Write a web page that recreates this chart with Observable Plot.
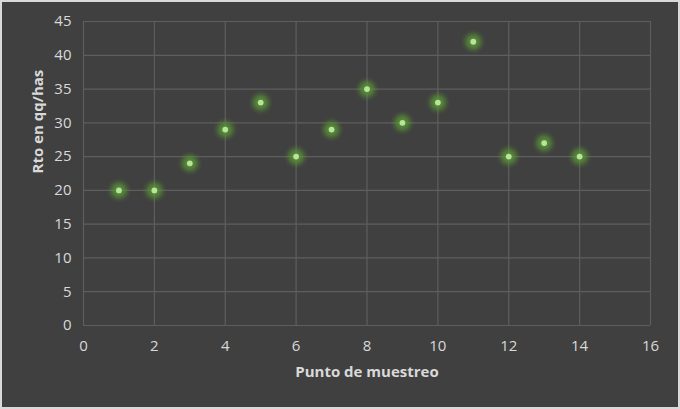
<!DOCTYPE html>
<html>
<head>
<meta charset="utf-8">
<script src="https://cdn.jsdelivr.net/npm/d3@7"></script>
<script src="https://cdn.jsdelivr.net/npm/@observablehq/plot@0.6"></script>
<style>
  html, body { margin: 0; padding: 0; background: #d9d9d9; }
  #chart { position: absolute; left: 2px; top: 2px; width: 676px; height: 405px; background: #404040; }
  svg { display: block; }
</style>
</head>
<body>
<div id="chart"></div>
<script>
const puntos = [1, 2, 3, 4, 5, 6, 7, 8, 9, 10, 11, 12, 13, 14];
const rendimiento = [20, 20, 24, 29, 33, 25, 29, 35, 30, 33, 42, 25, 27, 25];
const xTicks = [0, 2, 4, 6, 8, 10, 12, 14, 16];
const yTicks = [0, 5, 10, 15, 20, 25, 30, 35, 40, 45];
const xTitle = "Punto de muestreo";
const yTitle = "Rto en qq/has";

const data = puntos.map((p, i) => ({ x: p, y: rendimiento[i] }));

const chart = Plot.plot({
  width: 676,
  height: 405,
  marginLeft: 81,
  marginRight: 28,
  marginTop: 19,
  marginBottom: 82,
  style: { background: "transparent", color: "#d9d9d9", fontFamily: "'Open Sans', sans-serif", fontSize: "15px" },
  x: { domain: [0, 16], ticks: xTicks, tickSize: 0, tickPadding: 14, label: null },
  y: { domain: [0, 45], ticks: yTicks, tickSize: 0, tickPadding: 12, label: null },
  marks: [
    Plot.gridX(xTicks, { stroke: "#5e5e5e", strokeOpacity: 1, strokeWidth: 1.2 }),
    Plot.gridY(yTicks, { stroke: "#5e5e5e", strokeOpacity: 1, strokeWidth: 1.2 }),
    Plot.axisX({ ticks: xTicks, tickSize: 0, tickPadding: 15, fill: "#d9d9d9", fontSize: 15, label: null }),
    Plot.axisY({ ticks: yTicks, tickSize: 0, tickPadding: 12, fill: "#d9d9d9", fontSize: 15, label: null }),
    Plot.dot(data, { x: "x", y: "y", r: 8, fill: "#5b9a34", fillOpacity: 0.8, stroke: "none" }),
    Plot.dot(data, { x: "x", y: "y", r: 2.9, fill: "#b8e39a", stroke: "none" }),
    Plot.text([xTitle], { frameAnchor: "bottom", dy: 51, fontWeight: "bold", fontSize: 15, fill: "#d9d9d9" }),
    Plot.text([yTitle], { frameAnchor: "left", dx: -45, rotate: -90, fontWeight: "bold", fontSize: 15, fill: "#d9d9d9" })
  ]
});

const svg = d3.select(chart);
const defs = svg.insert("defs", ":first-child");
defs.append("filter").attr("id", "glowblur")
  .attr("x", "-100%").attr("y", "-100%").attr("width", "300%").attr("height", "300%")
  .append("feGaussianBlur").attr("stdDeviation", 2.6);
svg.selectAll("circle")
  .filter(function () { return +this.getAttribute("r") > 5; })
  .attr("filter", "url(#glowblur)");
document.getElementById("chart").appendChild(chart);
</script>
</body>
</html>
